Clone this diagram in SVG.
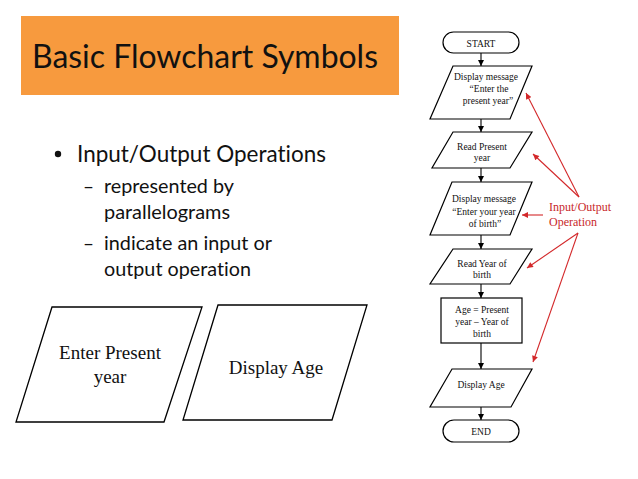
<svg xmlns="http://www.w3.org/2000/svg" width="638" height="479" viewBox="0 0 638 479">
<defs>
<marker id="ah" viewBox="0 0 10 10" refX="10" refY="5" markerWidth="6" markerHeight="6" markerUnits="userSpaceOnUse" orient="auto">
<path d="M0,0 L10,5 L0,10 z" fill="#000"/>
</marker>
<marker id="rh" viewBox="0 0 10 10" refX="10" refY="5" markerWidth="7" markerHeight="6" markerUnits="userSpaceOnUse" orient="auto">
<path d="M0,0 L10,5 L0,10 z" fill="#D3282A"/>
</marker>
<style>
.sh{fill:#fff;stroke:#000;stroke-width:1.2}
.big{fill:#fff;stroke:#000;stroke-width:1.3}
.t{font-family:"Liberation Serif","Times New Roman",serif;font-size:9.5px;fill:#111;text-anchor:middle}
.bt{font-family:"Liberation Serif","Times New Roman",serif;font-size:19px;fill:#111;text-anchor:middle}
.sans{font-family:Lato,"Open Sans","Liberation Sans",sans-serif;fill:#111;font-variant-ligatures:none}
.red{font-family:"Liberation Serif","Times New Roman",serif;font-size:12px;fill:#C8282A}
.c{stroke:#000;stroke-width:1.1;fill:none;marker-end:url(#ah)}
.rc{stroke:#D3282A;stroke-width:1.1;fill:none;marker-end:url(#rh)}
</style>
</defs>
<rect width="638" height="479" fill="#fff"/>

<g id="title">
<rect x="21" y="16" width="378" height="79" fill="#F79A3E"/>
<text class="sans" x="32" y="68" font-size="32" textLength="346" lengthAdjust="spacingAndGlyphs">Basic Flowchart Symbols</text>
</g>

<g id="bullets" class="sans">
<circle cx="58" cy="154" r="3.2" fill="#111"/>
<text x="77" y="162" font-size="24" textLength="249" lengthAdjust="spacingAndGlyphs">Input/Output Operations</text>
<text x="83" y="193" font-size="20" textLength="11" lengthAdjust="spacingAndGlyphs">–</text>
<text x="104" y="193" font-size="20" textLength="130" lengthAdjust="spacingAndGlyphs">represented by</text>
<text x="104" y="219" font-size="20" textLength="126" lengthAdjust="spacingAndGlyphs">parallelograms</text>
<text x="83" y="250" font-size="20" textLength="11" lengthAdjust="spacingAndGlyphs">–</text>
<text x="104" y="250" font-size="20" textLength="168" lengthAdjust="spacingAndGlyphs">indicate an input or</text>
<text x="104" y="276" font-size="20" textLength="147" lengthAdjust="spacingAndGlyphs">output operation</text>
</g>

<g id="enter-present-year">
<polygon class="big" points="52,307 202,307 164,422 16,422"/>
<text class="bt" x="110" y="359">Enter Present</text>
<text class="bt" x="110" y="383">year</text>
</g>

<g id="display-age-big">
<polygon class="big" points="218,305 367,305 332,420 183,420"/>
<text class="bt" x="276" y="374">Display Age</text>
</g>

<g id="start">
<rect class="sh" x="443" y="32" width="76" height="21" rx="10.5"/>
<text class="t" x="481" y="46.5">START</text>
</g>

<g id="p1">
<polygon class="sh" points="453,66 532,66 510,119 430,119"/>
<text class="t" x="486" y="80">Display message</text>
<text class="t" x="489" y="92">“Enter the</text>
<text class="t" x="488" y="104">present year”</text>
</g>

<g id="p2">
<polygon class="sh" points="453,132 532,132 510,168 432,168"/>
<text class="t" x="482" y="150">Read Present</text>
<text class="t" x="482" y="161">year</text>
</g>

<g id="p3">
<polygon class="sh" points="452,182 532,182 510,235 430,235"/>
<text class="t" x="484" y="202">Display message</text>
<text class="t" x="484" y="215">“Enter your year</text>
<text class="t" x="485" y="227">of birth”</text>
</g>

<g id="p4">
<polygon class="sh" points="453,249 532,249 510,284 430,284"/>
<text class="t" x="482" y="267">Read Year of</text>
<text class="t" x="482" y="278">birth</text>
</g>

<g id="calc">
<rect class="sh" x="441" y="298" width="81" height="45"/>
<text class="t" x="482" y="313">Age =  Present</text>
<text class="t" x="482" y="325">year – Year of</text>
<text class="t" x="482" y="337">birth</text>
</g>

<g id="p5">
<polygon class="sh" points="452,369 532,369 511,407 430,407"/>
<text class="t" x="481" y="388">Display Age</text>
</g>

<g id="end">
<rect class="sh" x="443" y="420" width="76" height="22" rx="11"/>
<text class="t" x="481" y="434.5">END</text>
</g>

<g id="io-label">
<text class="red" x="549" y="211">Input/Output</text>
<text class="red" x="549" y="226">Operation</text>
</g>

<g id="connectors">
<line class="c" x1="481" y1="53" x2="481" y2="66"/>
<line class="c" x1="481" y1="119" x2="481" y2="132"/>
<line class="c" x1="481" y1="168" x2="481" y2="182"/>
<line class="c" x1="481" y1="235" x2="481" y2="249"/>
<line class="c" x1="481" y1="284" x2="481" y2="298"/>
<line class="c" x1="481" y1="343" x2="481" y2="369"/>
<line class="c" x1="481" y1="407" x2="481" y2="420"/>
<line class="rc" x1="579" y1="197" x2="526" y2="93"/>
<line class="rc" x1="579" y1="197" x2="533" y2="154"/>
<line class="rc" x1="543" y1="215" x2="522" y2="215"/>
<line class="rc" x1="578" y1="233" x2="527" y2="268"/>
<line class="rc" x1="578" y1="233" x2="533" y2="362"/>
</g>
</svg>
